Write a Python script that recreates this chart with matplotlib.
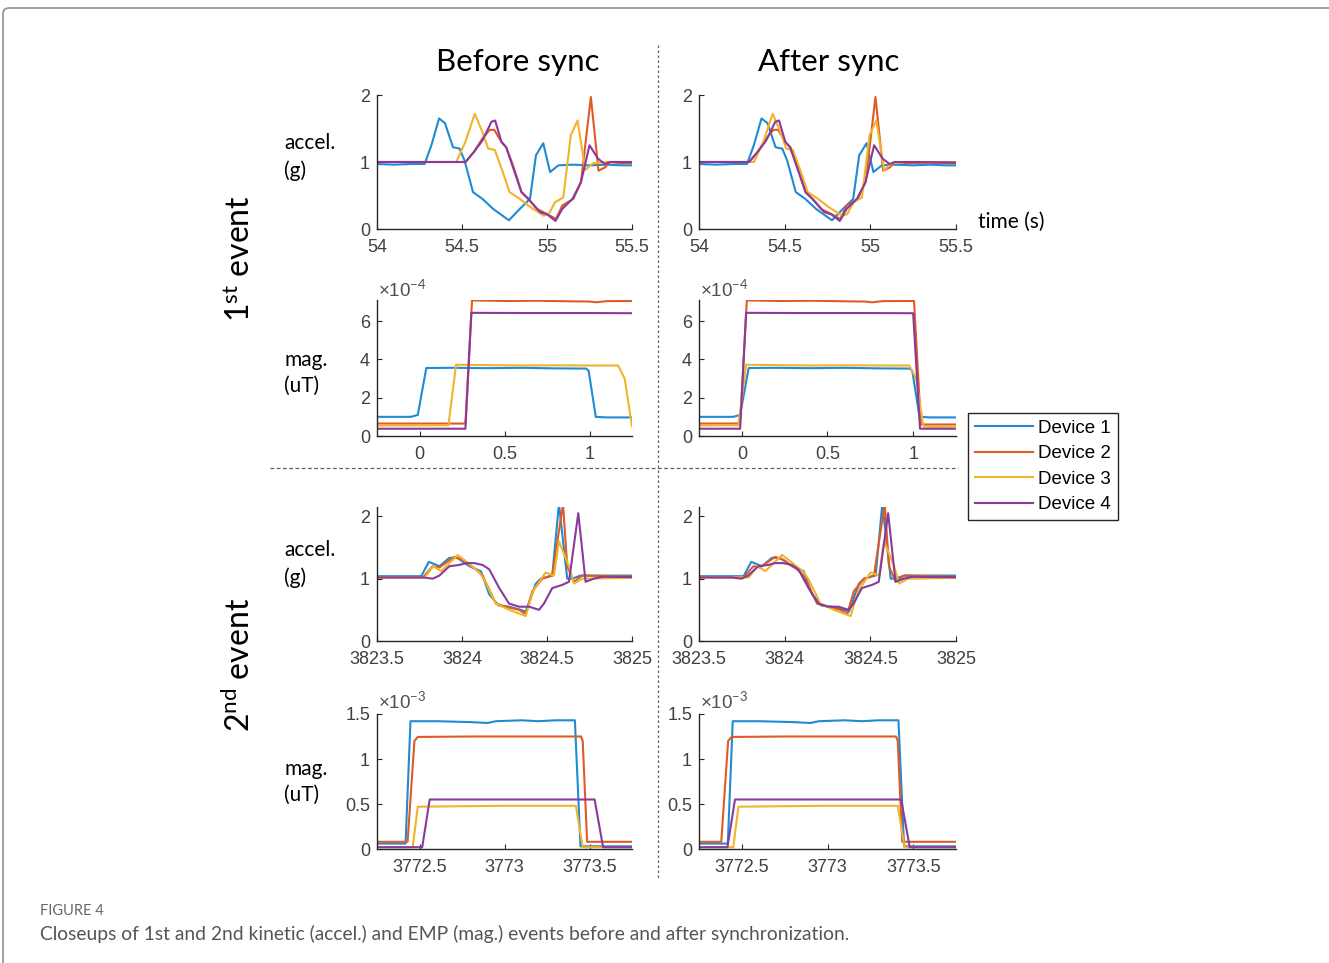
import numpy as np
import matplotlib
matplotlib.use("Agg")
import matplotlib.pyplot as plt
from matplotlib.lines import Line2D
from matplotlib.patches import FancyBboxPatch
from matplotlib.transforms import IdentityTransform

plt.rcParams["mathtext.fontset"] = "custom"
plt.rcParams["mathtext.rm"] = "Lato"
plt.rcParams["mathtext.it"] = "Lato:italic"
plt.rcParams["mathtext.bf"] = "Lato:bold"

W, H = 1329, 963
LABEL_FONT = "Lato"
TICK_FONT = "Liberation Sans"

DEVICES = ["Device 1", "Device 2", "Device 3", "Device 4"]
COLORS = ["#1f8bd3", "#e05a26", "#f0b42a", "#8a3a9a"]

# ---------------- Data (device clock, before sync) ----------------
# 1st event, accel (g)
acc1_t = [
    [53.9, 54.0, 54.1, 54.2, 54.28, 54.32, 54.365, 54.40, 54.447, 54.486, 54.515, 54.565,
     54.62, 54.683, 54.776, 54.84, 54.90, 54.935, 54.978, 55.018, 55.067, 55.15, 55.25,
     55.35, 55.45, 55.8],
    [53.9, 54.522, 54.57, 54.62, 54.663, 54.69, 54.732, 54.76, 54.80, 54.85, 54.89, 54.94,
     54.98, 55.053, 55.09, 55.155, 55.20, 55.258, 55.303, 55.342, 55.37, 55.45, 55.55, 55.8],
    [53.9, 54.466, 54.52, 54.575, 54.62, 54.654, 54.693, 54.74, 54.78, 54.84, 54.90, 54.98,
     55.01, 55.047, 55.096, 55.14, 55.18, 55.225, 55.27, 55.35, 55.8],
    [53.9, 54.52, 54.57, 54.62, 54.673, 54.695, 54.732, 54.76, 54.80, 54.85, 54.89, 54.96,
     55.0, 55.05, 55.09, 55.15, 55.20, 55.25, 55.30, 55.34, 55.37, 55.5, 55.8],
]
acc1_v = [
    [0.97, 0.97, 0.96, 0.97, 0.97, 1.25, 1.65, 1.58, 1.22, 1.20, 1.02, 0.55,
     0.45, 0.30, 0.13, 0.30, 0.45, 1.10, 1.28, 0.85, 0.95, 0.96, 0.95,
     0.96, 0.95, 0.95],
    [1.0, 1.0, 1.15, 1.35, 1.48, 1.48, 1.30, 1.22, 0.95, 0.55, 0.45, 0.30,
     0.25, 0.15, 0.35, 0.45, 0.70, 1.97, 0.87, 0.92, 1.0, 0.98, 0.99, 0.98],
    [1.0, 1.0, 1.30, 1.72, 1.45, 1.20, 1.18, 0.85, 0.55, 0.45, 0.33, 0.20,
     0.22, 0.40, 0.47, 1.40, 1.62, 0.88, 0.98, 1.0, 1.0],
    [1.0, 1.0, 1.15, 1.32, 1.60, 1.62, 1.30, 1.22, 0.92, 0.55, 0.45, 0.25,
     0.22, 0.12, 0.30, 0.45, 0.70, 1.25, 1.05, 0.97, 1.0, 1.0, 0.99],
]
acc1_shift = [0.0, -0.228, -0.145, -0.228]

# 1st event, mag (x1e-4 uT)
mag1_t = [
    [-0.3, -0.05, -0.01, 0.04, 0.2, 0.4, 0.6, 0.8, 0.98, 0.995, 1.037, 1.1, 1.25, 1.6],
    [-0.3, 0.27, 0.309, 0.5, 0.7, 0.9, 1.0, 1.04, 1.1, 1.25, 1.285, 1.325, 1.4, 1.6],
    [-0.3, 0.17, 0.215, 0.4, 0.6, 0.8, 1.0, 1.168, 1.207, 1.25, 1.28, 1.6],
    [-0.3, 0.27, 0.305, 0.6, 1.0, 1.25, 1.28, 1.32, 1.6],
]
mag1_v = [
    [1.0, 1.0, 1.1, 3.55, 3.56, 3.54, 3.56, 3.53, 3.52, 3.4, 1.0, 0.97, 0.97, 0.97],
    [0.65, 0.65, 7.08, 7.05, 7.06, 7.03, 7.02, 6.98, 7.04, 7.05, 7.05, 0.6, 0.6, 0.6],
    [0.55, 0.56, 3.72, 3.70, 3.68, 3.69, 3.68, 3.68, 3.0, 0.5, 0.48, 0.5],
    [0.38, 0.38, 6.43, 6.42, 6.42, 6.41, 6.41, 0.38, 0.38],
]
mag1_shift = [0.0, -0.28, -0.19, -0.28]

# 2nd event, accel (g)
acc2_t = [
    [3823.3, 3823.76, 3823.805, 3823.867, 3823.926, 3823.975, 3824.043, 3824.111, 3824.16,
     3824.215, 3824.277, 3824.346, 3824.375, 3824.434, 3824.463, 3824.531, 3824.57,
     3824.619, 3824.648, 3824.697, 3825.2],
    [3823.3, 3823.77, 3823.828, 3823.867, 3823.955, 3824.004, 3824.082, 3824.121, 3824.199,
     3824.258, 3824.336, 3824.375, 3824.414, 3824.473, 3824.531, 3824.594, 3824.619,
     3824.658, 3824.707, 3825.2],
    [3823.3, 3823.78, 3823.832, 3823.877, 3823.975, 3824.023, 3824.102, 3824.131, 3824.199,
     3824.277, 3824.375, 3824.418, 3824.492, 3824.541, 3824.57, 3824.629, 3824.658,
     3824.707, 3825.2],
    [3823.3, 3823.77, 3823.828, 3823.867, 3823.926, 3823.984, 3824.023, 3824.072, 3824.121,
     3824.16, 3824.219, 3824.277, 3824.336, 3824.395, 3824.453, 3824.482, 3824.531,
     3824.59, 3824.629, 3824.684, 3824.727, 3824.775, 3824.824, 3825.2],
]
acc2_v = [
    [1.04, 1.04, 1.27, 1.20, 1.335, 1.33, 1.20, 1.12, 0.75,
     0.57, 0.55, 0.50, 0.47, 0.92, 1.0, 1.05, 2.2,
     1.0, 1.0, 1.05, 1.05],
    [1.02, 1.02, 1.20, 1.18, 1.35, 1.30, 1.15, 1.05, 0.60,
     0.55, 0.50, 0.43, 0.80, 1.0, 1.05, 2.2, 1.2,
     0.95, 1.05, 1.02],
    [1.02, 1.02, 1.20, 1.12, 1.38, 1.28, 1.10, 0.98, 0.60,
     0.50, 0.40, 0.80, 1.10, 1.05, 1.60, 1.20, 0.92,
     1.0, 1.02],
    [1.02, 1.02, 1.00, 1.05, 1.20, 1.22, 1.25, 1.25, 1.22,
     1.15, 0.85, 0.60, 0.55, 0.55, 0.50, 0.60, 0.85,
     0.90, 0.95, 2.05, 0.95, 1.0, 1.03, 1.02],
]
acc2_shift = [0.0, -0.01, 0.01, -0.08]

# 2nd event, mag (x1e-3 uT)
mag2_t = [
    [3772.1, 3772.418, 3772.447, 3772.6, 3772.8, 3772.9, 3772.95, 3773.1, 3773.2, 3773.3,
     3773.414, 3773.447, 3773.6, 3773.9],
    [3772.1, 3772.43, 3772.47, 3772.49, 3772.8, 3773.1, 3773.45, 3773.46, 3773.486, 3773.9],
    [3772.1, 3772.46, 3772.49, 3773.0, 3773.42, 3773.46, 3773.9],
    [3772.1, 3772.516, 3772.56, 3773.0, 3773.53, 3773.58, 3773.9],
]
mag2_v = [
    [0.06, 0.06, 1.42, 1.42, 1.41, 1.40, 1.42, 1.43, 1.42, 1.43,
     1.43, 0.03, 0.03, 0.03],
    [0.08, 0.08, 1.20, 1.245, 1.25, 1.25, 1.25, 1.20, 0.08, 0.08],
    [0.02, 0.02, 0.47, 0.48, 0.48, 0.02, 0.02],
    [0.02, 0.02, 0.55, 0.55, 0.55, 0.02, 0.02],
]
mag2_shift = [0.0, -0.05, -0.01, -0.10]

# ---------------- Figure ----------------
fig = plt.figure(figsize=(W / 100, H / 100), dpi=100)


def px_axes(left, top, right, bottom):
    return fig.add_axes([left / W, 1 - bottom / H, (right - left) / W, (bottom - top) / H])


def style(ax, xlim, xticks, xlabels, ylim, yticks, ylabels):
    for s in ["top", "right"]:
        ax.spines[s].set_visible(False)
    for s in ["left", "bottom"]:
        ax.spines[s].set_color("#262626")
        ax.spines[s].set_linewidth(1.0)
    ax.set_xlim(*xlim)
    ax.set_ylim(*ylim)
    ax.set_xticks(xticks)
    ax.set_xticklabels(xlabels)
    ax.set_yticks(yticks)
    ax.set_yticklabels(ylabels)
    ax.tick_params(direction="in", length=3.5, width=0.8, color="#262626",
                   labelcolor="#404040", labelsize=13)
    ax.tick_params(axis="x", pad=7)
    ax.tick_params(axis="y", pad=5)
    for lab in ax.get_xticklabels() + ax.get_yticklabels():
        lab.set_fontfamily(TICK_FONT)


def draw(ax, ts, vs, shifts=None):
    for i in range(4):
        t = np.array(ts[i])
        if shifts is not None:
            t = t + shifts[i]
        ax.plot(t, vs[i], color=COLORS[i], lw=1.5, solid_joinstyle="round")


cols = [(377, 632), (699, 956)]
rows = {
    "acc1": (95, 229),
    "mag1": (300, 436),
    "acc2": (507, 641),
    "mag2": (714, 849),
}

for c, (xl, xr) in enumerate(cols):
    sh = c == 1
    ax = px_axes(xl, rows["acc1"][0], xr, rows["acc1"][1])
    draw(ax, acc1_t, acc1_v, acc1_shift if sh else None)
    style(ax, (54, 55.5), [54, 54.5, 55, 55.5], ["54", "54.5", "55", "55.5"],
          (0, 2), [0, 1, 2], ["0", "1", "2"])

    ax = px_axes(xl, rows["mag1"][0], xr, rows["mag1"][1])
    draw(ax, mag1_t, mag1_v, mag1_shift if sh else None)
    style(ax, (-0.25, 1.25), [0, 0.5, 1], ["0", "0.5", "1"],
          (0, 7.1), [0, 2, 4, 6], ["0", "2", "4", "6"])
    fig.text((xl + 1) / W, 1 - 290 / H, "×10$^{-4}$", family=TICK_FONT, fontsize=13.5,
             color="#505050", ha="left", va="center")

    ax = px_axes(xl, rows["acc2"][0], xr, rows["acc2"][1])
    draw(ax, acc2_t, acc2_v, acc2_shift if sh else None)
    style(ax, (3823.5, 3825), [3823.5, 3824, 3824.5, 3825],
          ["3823.5", "3824", "3824.5", "3825"],
          (0, 2.15), [0, 1, 2], ["0", "1", "2"])

    ax = px_axes(xl, rows["mag2"][0], xr, rows["mag2"][1])
    draw(ax, mag2_t, mag2_v, mag2_shift if sh else None)
    style(ax, (3772.25, 3773.75), [3772.5, 3773, 3773.5], ["3772.5", "3773", "3773.5"],
          (0, 1.5), [0, 0.5, 1, 1.5], ["0", "0.5", "1", "1.5"])
    fig.text((xl + 1) / W, 1 - 702 / H, "×10$^{-3}$", family=TICK_FONT, fontsize=13.5,
             color="#505050", ha="left", va="center")

# ---------------- Labels ----------------
fig.text(518 / W, 1 - 62 / H, "Before sync", family=LABEL_FONT, fontsize=22.5,
         ha="center", va="center", color="black")
fig.text(829 / W, 1 - 62 / H, "After sync", family=LABEL_FONT, fontsize=22.5,
         ha="center", va="center", color="black")

for y, s in [(157, "accel.\n(g)"), (373, "mag.\n(uT)"), (564, "accel.\n(g)"), (782, "mag.\n(uT)")]:
    fig.text(284 / W, 1 - y / H, s, family=LABEL_FONT, fontsize=15, ha="left",
             va="center", linespacing=1.4, color="black")

fig.text(978 / W, 1 - 222 / H, "time (s)", family=LABEL_FONT, fontsize=15,
         ha="left", va="center", color="black")

fig.text(240 / W, 1 - 259 / H, r"$\mathrm{1^{st}}$ event", family=LABEL_FONT, fontsize=23,
         rotation=90, ha="center", va="center", color="black")
fig.text(240 / W, 1 - 665 / H, r"$\mathrm{2^{nd}}$ event", family=LABEL_FONT, fontsize=23,
         rotation=90, ha="center", va="center", color="black")

# separators
fig.add_artist(Line2D([658 / W, 658 / W], [1 - 45 / H, 1 - 880 / H], transform=fig.transFigure,
                      color="#606060", lw=0.9, linestyle=(0, (2, 2))))
fig.add_artist(Line2D([270 / W, 958 / W], [1 - 468 / H, 1 - 468 / H], transform=fig.transFigure,
                      color="#606060", lw=0.9, linestyle=(0, (3, 2))))

# legend
handles = [Line2D([], [], color=COLORS[i], lw=1.5) for i in range(4)]
leg = fig.legend(handles, DEVICES, loc="upper left", bbox_to_anchor=(968 / W, 1 - 413 / H),
                 borderaxespad=0, frameon=True, fancybox=False, edgecolor="#262626",
                 framealpha=1, handlelength=3.1, handletextpad=0.3, labelspacing=0.45,
                 borderpad=0.35, prop={"family": TICK_FONT, "size": 13.5})
leg.get_frame().set_linewidth(1.0)

# outer frame
frame = FancyBboxPatch((3, -20), W + 40, H + 20 - 8, boxstyle="round,pad=0,rounding_size=6",
                       transform=IdentityTransform(), fill=False, edgecolor="#8f8f8f", lw=1.2)
fig.add_artist(frame)

# caption
fig.text(40 / W, 1 - 911 / H, "FIGURE 4", family=LABEL_FONT, fontsize=10.5,
         color="#666666", ha="left", va="center")
fig.text(40 / W, 1 - 934 / H,
         "Closeups of 1st and 2nd kinetic (accel.) and EMP (mag.) events before and after synchronization.",
         family=LABEL_FONT, fontsize=13.9, color="#555555", ha="left", va="center")

fig.savefig("out.png", dpi=100)
